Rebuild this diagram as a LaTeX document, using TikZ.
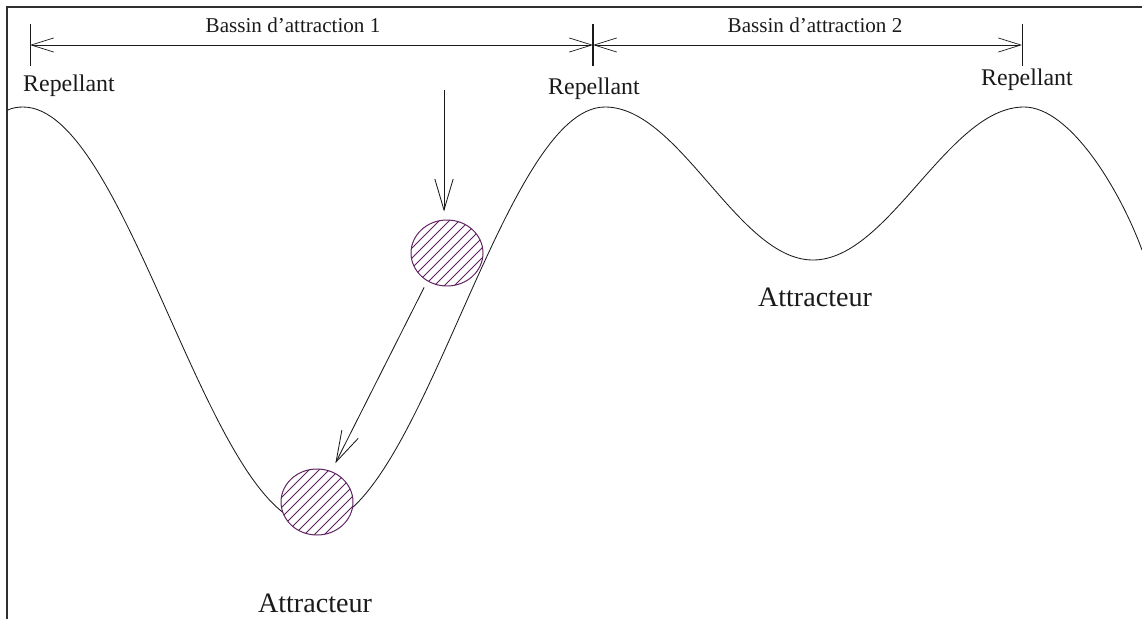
\documentclass[tikz,border=0pt]{standalone}
\usepackage{fontspec}
\setmainfont{Liberation Serif}
\usepackage{xcolor}
\usepackage{tikz}
\usetikzlibrary{arrows.meta,positioning,shapes.geometric}
\definecolor{trait}{HTML}{1A1A1A}
\definecolor{cadre}{HTML}{303030}
\definecolor{boule}{HTML}{5E2060}

\begin{document}
\begin{tikzpicture}[x=0.025cm,y=-0.025cm,
  etiq/.style={font=\fontsize{17}{20}\selectfont,text=trait,inner sep=0pt},
  bassin/.style={font=\fontsize{15}{18}\selectfont,text=trait,inner sep=0pt},
  attr/.style={font=\fontsize{20}{24}\selectfont,text=trait,inner sep=0pt},
  cote/.style={{Straight Barb[length=16pt,width=10pt]}-{Straight Barb[length=16pt,width=10pt]},trait,line width=0.5pt},
  fleche/.style={-{Straight Barb[length=22pt,width=13pt]},trait,line width=0.6pt},
  balle/.style={ellipse,draw=boule,line width=0.7pt,fill=white,minimum width=72*0.025cm,minimum height=66*0.025cm,inner sep=0pt},
  hachure/.style={boule,line width=0.6pt}
]
  \useasboundingbox (0,0) rectangle (1142,619);
  % cadre
  \draw[cadre,line width=1.2pt] (1142,7) -- (7,7) -- (7,619);
  % paysage
  \draw[trait,line width=0.6pt] (8,110) .. controls (12,108) and (17,107) .. (23,107)
    .. controls (128,107) and (210,525) .. (315,525)
    .. controls (419,525) and (501,107) .. (605,107)
    .. controls (680,107) and (738,260) .. (813,260)
    .. controls (889,260) and (948,107) .. (1024,107)
    .. controls (1070,107) and (1120,190) .. (1142,250);
  % cotes des bassins
  \coordinate (g) at (30,45);
  \coordinate (m) at (593,45);
  \coordinate (d) at (1022,45);
  \draw[trait,line width=0.6pt] (30,24) -- (30,66);
  \draw[trait,line width=1pt] (593,24) -- (593,66);
  \draw[trait,line width=0.6pt] (1022,24) -- (1022,66);
  \draw[cote] (g) -- (m);
  \draw[cote] (m) -- (d);
  \node[bassin] (b1) at (293,25) {Bassin d'attraction 1};
  \node[bassin] (b2) at (815,25) {Bassin d'attraction 2};
  % repellants
  \node[etiq] (r1) at (69,86) {Repellant};
  \node[etiq] (r2) at (594,89) {Repellant};
  \node[etiq] (r3) at (1027,80) {Repellant};
  % attracteurs
  \node[attr] (a1) at (315,603) {Attracteur};
  \node[attr] (a2) at (815,297) {Attracteur};
  % boules
  \node[balle] (ball1) at (447,253) {};
  \node[balle] (ball2) at (317,502) {};
  \foreach \b in {ball1,ball2} {
    \begin{scope}[shift={(\b.center)}]
      \clip (0,0) ellipse [x radius=36, y radius=33];
      \foreach \k in {-70,-60,...,70}
        \draw[hachure] (\k-40,40) -- (\k+40,-40);
    \end{scope}
  }
  \coordinate (haut) at (444,90);
  \draw[fleche,shorten >=8*0.025cm] (haut) -- (ball1.north -| haut);
  \draw[fleche,shorten <=7*0.025cm,shorten >=9*0.025cm] (ball1.235) -- (ball2.65);
\end{tikzpicture}
\end{document}
